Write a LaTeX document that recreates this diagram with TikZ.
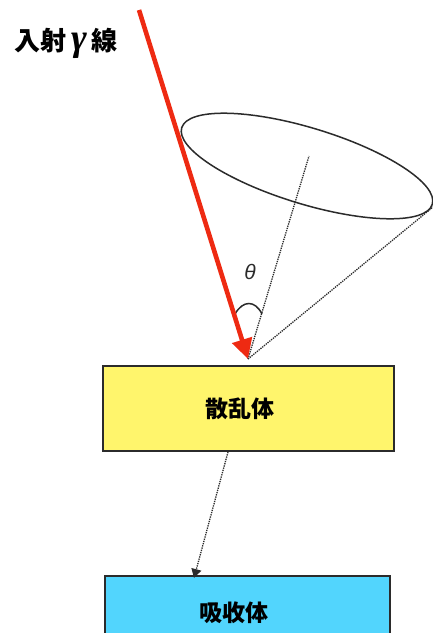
\documentclass[tikz,border=0pt]{standalone}
\usepackage{xcolor}
\usepackage{fontspec}
\usetikzlibrary{arrows.meta,positioning,calc}
\setmainfont{Liberation Sans}
\newfontfamily\cjk{Noto Sans CJK JP}
\newfontfamily\gammafont{Liberation Serif}
\definecolor{rayred}{HTML}{EE2A12}
\definecolor{scatteryellow}{HTML}{FFF56C}
\definecolor{absorbblue}{HTML}{52D5FD}
\definecolor{edgegray}{HTML}{2B2B2B}
\tikzset{
  detbox/.style={draw=edgegray, line width=1.5pt, anchor=north west},
  boxlabel/.style={font=\cjk\bfseries\fontsize{23}{27}\selectfont, text=black, inner sep=0pt},
  rayflow/.style={-{Triangle[length=20pt,width=20pt]}, line width=4.6pt, draw=rayred},
  dotline/.style={densely dotted, line width=1.3pt, draw=edgegray},
  dotflow/.style={dotline, -{Triangle[length=9pt,width=10pt]}}
}
\begin{document}
\begin{tikzpicture}[x=1pt,y=-1pt]
  \useasboundingbox (0,0) rectangle (433,633);
  \clip (0,0) rectangle (433,633);

  \node[detbox, fill=scatteryellow, minimum width=291pt, minimum height=85pt] (scatterer) at (102,365) {};
  \node[detbox, fill=absorbblue, minimum width=285pt, minimum height=80pt] (absorber) at (104,575) {};
  \node[boxlabel] (scatterlabel) at (240,409) {散乱体};
  \node[boxlabel] (absorblabel) at (234,613) {吸收体};
  \node[font=\cjk\bfseries\fontsize{26}{30}\selectfont, inner sep=0pt] (raylabel) at (66,43) {入射\,{\gammafont\bfseries\itshape\fontsize{38}{38}\selectfont γ}\,線};

  \coordinate (raystart) at (139,10);
  \coordinate (apex) at (248,359);
  \coordinate (axisend) at (309,156);
  \coordinate (conerim) at (433,207);
  \coordinate (scatterout) at (228,452);
  \coordinate (absorbin) at (194,578);
  \coordinate (arcleft) at (235,314);
  \coordinate (arcright) at (262,314);

  % cone
  \draw[line width=1.5pt, draw=edgegray, rotate around={-17:(307,166)}] (307,166) ellipse [x radius=131, y radius=38];
  \draw[dotline] (apex) -- (axisend);
  \draw[dotline] (apex) -- (conerim);
  \draw[line width=1.5pt, draw=edgegray] (arcleft) .. controls (243,300) and (255,300) .. (arcright);
  \node[font=\itshape\fontsize{21}{24}\selectfont, text=edgegray, inner sep=0pt] (thetalabel) at (250,272) {θ};

  \draw[rayflow] (raystart) -- (apex);
  \draw[dotflow] (scatterout) -- (absorbin);
\end{tikzpicture}
\end{document}
